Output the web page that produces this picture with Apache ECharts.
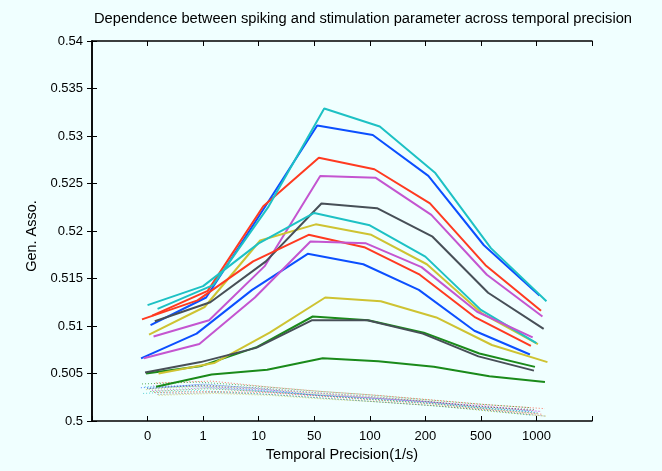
<!DOCTYPE html>
<html>
<head>
<meta charset="utf-8">
<script src="https://cdn.jsdelivr.net/npm/echarts@6/dist/echarts.min.js"></script>
<style>
  html, body { margin: 0; padding: 0; background: #F0FFFF; }
  #chart { width: 662px; height: 471px; }
</style>
</head>
<body>
<div id="chart"></div>
<script>
// x categories (temporal precision, 1/s)
const categories = ['0', '1', '10', '50', '100', '200', '500', '1000']

// solid curves
const blueHigh    = [0.5101, 0.5130, 0.5220, 0.5311, 0.5301, 0.5258, 0.5185, 0.5132]
const greenHigh   = [0.5050, 0.5058, 0.5078, 0.5110, 0.5106, 0.5093, 0.5071, 0.5057]
const redHigh     = [0.5111, 0.5137, 0.5226, 0.5277, 0.5265, 0.5229, 0.5164, 0.5116]
const cyanHigh    = [0.5118, 0.5143, 0.5226, 0.5329, 0.5310, 0.5261, 0.5182, 0.5126]
const magentaHigh = [0.5089, 0.5106, 0.5163, 0.5258, 0.5256, 0.5217, 0.5154, 0.5110]
const yellowHigh  = [0.5091, 0.5120, 0.5190, 0.5207, 0.5196, 0.5165, 0.5113, 0.5081]
const grayHigh    = [0.5105, 0.5125, 0.5168, 0.5229, 0.5224, 0.5194, 0.5135, 0.5097]
const blueLow     = [0.5066, 0.5092, 0.5138, 0.5176, 0.5165, 0.5138, 0.5095, 0.5070]
const greenLow    = [0.5036, 0.5049, 0.5054, 0.5066, 0.5063, 0.5057, 0.5047, 0.5041]
const redLow      = [0.5107, 0.5127, 0.5168, 0.5196, 0.5183, 0.5154, 0.5109, 0.5079]
const cyanLow     = [0.5122, 0.5142, 0.5187, 0.5219, 0.5206, 0.5173, 0.5117, 0.5082]
const magentaLow  = [0.5066, 0.5081, 0.5130, 0.5189, 0.5187, 0.5162, 0.5115, 0.5088]
const yellowLow   = [0.5050, 0.5061, 0.5093, 0.5130, 0.5126, 0.5109, 0.5080, 0.5062]
const grayLow     = [0.5051, 0.5062, 0.5077, 0.5106, 0.5106, 0.5092, 0.5068, 0.5053]

// dotted (shuffled) curves near the bottom
const dot1  = [0.5035, 0.5038, 0.5033, 0.5028, 0.5025, 0.5021, 0.5016, 0.5011]
const dot2  = [0.5031, 0.5034, 0.5031, 0.5027, 0.5023, 0.5019, 0.5013, 0.5008]
const dot3  = [0.5040, 0.5042, 0.5036, 0.5031, 0.5027, 0.5022, 0.5017, 0.5013]
const dot4  = [0.5029, 0.5032, 0.5029, 0.5025, 0.5021, 0.5017, 0.5012, 0.5006]
const dot5  = [0.5037, 0.5036, 0.5033, 0.5029, 0.5024, 0.5020, 0.5015, 0.5010]
const dot6  = [0.5033, 0.5037, 0.5034, 0.5029, 0.5025, 0.5021, 0.5015, 0.5011]
const dot7  = [0.5028, 0.5030, 0.5028, 0.5024, 0.5020, 0.5016, 0.5011, 0.5005]
const dot8  = [0.5034, 0.5039, 0.5034, 0.5027, 0.5024, 0.5020, 0.5014, 0.5009]
const dot9  = [0.5039, 0.5041, 0.5037, 0.5032, 0.5028, 0.5023, 0.5018, 0.5014]
const dot10 = [0.5030, 0.5031, 0.5030, 0.5026, 0.5022, 0.5018, 0.5012, 0.5007]
const dot11 = [0.5036, 0.5036, 0.5032, 0.5028, 0.5023, 0.5019, 0.5014, 0.5010]
const dot12 = [0.5032, 0.5035, 0.5031, 0.5027, 0.5024, 0.5020, 0.5016, 0.5010]
const dot13 = [0.5027, 0.5029, 0.5027, 0.5023, 0.5020, 0.5016, 0.5010, 0.5005]
const dot14 = [0.5034, 0.5038, 0.5035, 0.5030, 0.5026, 0.5021, 0.5015, 0.5012]

// each curve is drawn a little to the side of its category
const solidCurves = [
  { values: blueHigh,    shift: 0.054,  color: '#0B4FFF' },
  { values: greenHigh,   shift: -0.027, color: '#1A8A1A' },
  { values: redHigh,     shift: 0.083,  color: '#FF3A20' },
  { values: cyanHigh,    shift: 0.18,   color: '#1DC1C4' },
  { values: magentaHigh, shift: 0.108,  color: '#C455D0' },
  { values: yellowHigh,  shift: 0.027,  color: '#CEC332' },
  { values: grayHigh,    shift: 0.13,   color: '#474F57' },
  { values: blueLow,     shift: -0.117, color: '#0B4FFF' },
  { values: greenLow,    shift: 0.153,  color: '#1A8A1A' },
  { values: redLow,      shift: -0.1,   color: '#FF3A20' },
  { values: cyanLow,     shift: 0,      color: '#1DC1C4' },
  { values: magentaLow,  shift: -0.068, color: '#C455D0' },
  { values: yellowLow,   shift: 0.198,  color: '#CEC332' },
  { values: grayLow,     shift: -0.045, color: '#474F57' }
]
const dottedCurves = [dot1, dot2, dot3, dot4, dot5, dot6, dot7, dot8, dot9, dot10, dot11, dot12, dot13, dot14]
const dotShift = [-0.12, 0.05, 0.15, -0.08, 0.1, -0.03, 0.18, 0.02, -0.1, 0.12, -0.05, 0.08, 0.2, -0.01]
const palette = ['#0B4FFF', '#1A8A1A', '#FF3A20', '#1DC1C4', '#C455D0', '#CEC332', '#474F57']

const toPoints = (vals, shift) => vals.map((v, i) => [i + 1 + shift, v])

const series = []
dottedCurves.forEach((vals, k) => {
  series.push({
    type: 'line',
    data: toPoints(vals, dotShift[k]),
    symbol: 'none',
    silent: true,
    lineStyle: { color: palette[k % 7], width: 1, type: [1, 2], opacity: 0.7 }
  })
})
solidCurves.forEach(c => {
  series.push({
    type: 'line',
    data: toPoints(c.values, c.shift),
    symbol: 'none',
    lineStyle: { color: c.color, width: 2 }
  })
})

const chart = echarts.init(document.getElementById('chart'))
const axisFont = { fontFamily: 'Liberation Sans', fontSize: 13, color: '#000' }
const nameFont = { fontFamily: 'Liberation Sans', fontSize: 14.5, color: '#000' }
chart.setOption({
  backgroundColor: '#F0FFFF',
  animation: false,
  title: {
    text: 'Dependence between spiking and stimulation parameter across temporal precision',
    left: 94,
    top: 11,
    padding: 0,
    textStyle: { fontFamily: 'Liberation Sans', fontSize: 14.7, fontWeight: 'normal', color: '#000' }
  },
  grid: { left: 92, right: 70, top: 41, bottom: 50, show: true, backgroundColor: '#F0FFFF', borderWidth: 0 },
  xAxis: [
    {
      type: 'value', min: 0, max: 9, interval: 1,
      name: 'Temporal Precision(1/s)', nameLocation: 'middle', nameGap: 23,
      nameTextStyle: nameFont,
      axisLine: { lineStyle: { color: '#000', width: 1.5 } },
      axisTick: { inside: true, length: 5, lineStyle: { color: '#000' } },
      axisLabel: { ...axisFont, margin: 9, formatter: v => categories[v - 1] || '' },
      splitLine: { show: false }
    },
    {
      type: 'value', min: 0, max: 9, interval: 1, position: 'top',
      axisLine: { lineStyle: { color: '#000', width: 1.5 } },
      axisTick: { inside: true, length: 5, lineStyle: { color: '#000' } },
      axisLabel: { show: false },
      splitLine: { show: false }
    }
  ],
  yAxis: [
    {
      type: 'value', min: 0.5, max: 0.54, interval: 0.005,
      name: 'Gen. Asso.', nameLocation: 'middle', nameGap: 47, nameRotate: 90,
      nameTextStyle: { ...nameFont, padding: [0, 10, 0, 0] },
      axisLine: { show: true, lineStyle: { color: '#000', width: 1.5 } },
      axisTick: { show: true, inside: true, length: 5, lineStyle: { color: '#000' } },
      axisLabel: { ...axisFont, margin: 9 },
      splitLine: { show: false }
    },
    {
      type: 'value', min: 0.5, max: 0.54, interval: 0.005, position: 'right',
      axisLine: { show: true, lineStyle: { color: '#000', width: 1.5 } },
      axisTick: { show: true, inside: true, length: 5, lineStyle: { color: '#000' } },
      axisLabel: { show: false },
      splitLine: { show: false }
    }
  ],
  series: series
})
</script>
</body>
</html>
